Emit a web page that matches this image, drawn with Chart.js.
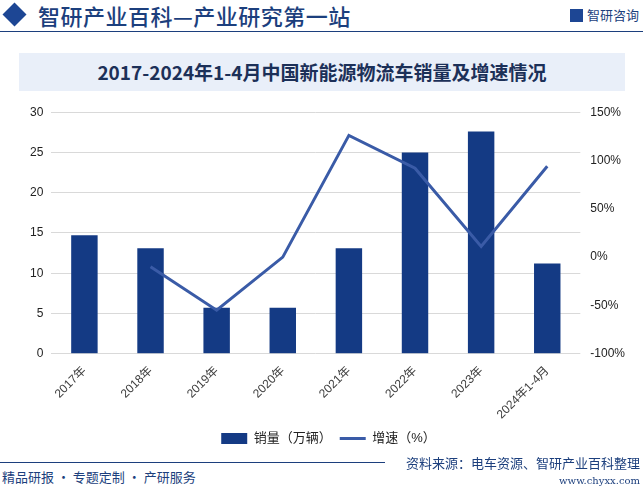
<!DOCTYPE html>
<html>
<head>
<meta charset="utf-8">
<script src="https://cdn.jsdelivr.net/npm/chart.js@4.4.1/dist/chart.umd.min.js"></script>
<style>
  html, body { margin: 0; padding: 0; background: #fff; }
  #page { position: relative; width: 643px; height: 486px; overflow: hidden; font-family: "Noto Sans CJK SC", sans-serif; }
  #logo { position: absolute; left: 6px; top: 6px; width: 17px; height: 17px; background: #1d4694; transform: rotate(45deg); }
  #logo2 { position: absolute; left: 17px; top: 8px; width: 13px; height: 13px; background: #c9d3e6; transform: rotate(45deg); z-index: -1; }
  #head { position: absolute; left: 38px; top: 0px; font-size: 22px; color: #1c3f7d; font-weight: 500; letter-spacing: 0.5px; line-height: 30px; }
  #brand { position: absolute; right: 4px; top: 6px; font-size: 13px; color: #1c3f7d; line-height: 18px; }
  #brand span.ic { display: inline-block; width: 13px; height: 13px; background: #1d4694; vertical-align: -2px; margin-right: 4px; }
  #hline { position: absolute; left: 0; top: 31px; width: 643px; height: 1px; background: #1c3f7d; }
  #titlebox { position: absolute; left: 19px; top: 53px; width: 606px; height: 38px; background: #e9eff9; text-align: center; line-height: 38px; font-size: 19px; font-weight: 700; color: #1c3058; }
  #chartwrap { position: absolute; left: 0; top: 95px; width: 643px; height: 360px; }
  #fline { position: absolute; left: 0; top: 462px; width: 385px; height: 0; border-top: 1px solid #1c3f7d; z-index: 5; }
  #src { position: absolute; right: 3px; top: 453px; font-size: 13px; color: #1c3f7d; line-height: 20px; }
  #slogan { position: absolute; left: 2px; top: 468px; font-size: 13px; color: #1c3f7d; line-height: 18px; }
  #url { position: absolute; right: 3px; top: 474px; font-size: 10px; color: #1c3f7d; font-family: "DejaVu Serif", serif; line-height: 14px; }
</style>
</head>
<body>
<div id="page">
  <div id="logo2"></div>
  <div id="logo"></div>
  <div id="head">智研产业百科—产业研究第一站</div>
  <div id="brand"><span class="ic"></span>智研咨询</div>
  <div id="hline"></div>
  <div id="titlebox">2017-2024年1-4月中国新能源物流车销量及增速情况</div>
  <div id="chartwrap"><canvas id="chart-canvas"></canvas></div>
  <div id="fline"></div>
  <div id="src">资料来源：电车资源、智研产业百科整理</div>
  <div id="slogan">精品研报 · 专题定制 · 产研服务</div>
  <div id="url">www.chyxx.com</div>
</div>
<script>
let labels    = ['2017年', '2018年', '2019年', '2020年', '2021年', '2022年', '2023年', '2024年1-4月'];
let sales     = [14.7, 13.1, 5.7, 5.7, 13.1, 25.0, 27.6, 11.2];
let growth    = [null, -10, -55, 0, 126, 92, 11, 94];
let leftTicks = [0, 5, 10, 15, 20, 25, 30];
let rightTicks = [-100, -50, 0, 50, 100, 150];

let fontFamily = '"Liberation Sans", "Noto Sans CJK SC", sans-serif';

var ctx = document.getElementById('chart-canvas').getContext('2d');
window.myChart = new Chart(ctx, {
  type: 'bar',
  data: {
    labels: labels,
    datasets: [
      {
        label: '销量（万辆）',
        data: sales,
        backgroundColor: '#143a84',
        borderWidth: 0,
        barPercentage: 0.8,
        categoryPercentage: 0.5,
        yAxisID: 'y',
        order: 2
      },
      {
        type: 'line',
        label: '增速（%）',
        data: growth,
        borderColor: '#3a5ba7',
        backgroundColor: '#3a5ba7',
        borderWidth: 3,
        pointRadius: 0,
        fill: false,
        tension: 0,
        yAxisID: 'y1',
        order: 1
      }
    ]
  },
  options: {
    responsive: true,
    maintainAspectRatio: false,
    animation: false,
    layout: { padding: { left: 22, right: 8, top: 0, bottom: 0 } },
    plugins: {
      legend: {
        position: 'bottom',
        labels: {
          font: { family: fontFamily, size: 13 },
          color: '#222',
          usePointStyle: true,
          pointStyleWidth: 26,
          boxHeight: 11,
          padding: 8,
          generateLabels: function(chart) {
            let items = Chart.defaults.plugins.legend.labels.generateLabels(chart);
            items.sort(function(a, b) { return a.datasetIndex - b.datasetIndex; });
            items.forEach(function(it) {
              if (it.datasetIndex === 0) {
                it.pointStyle = 'rect';
                it.fillStyle = '#143a84';
                it.lineWidth = 0;
              } else {
                it.pointStyle = 'line';
                it.lineWidth = 3;
                it.strokeStyle = '#3a5ba7';
              }
            });
            return items;
          }
        }
      },
      tooltip: { enabled: false }
    },
    scales: {
      x: {
        grid: { display: false },
        border: { display: false },
        ticks: {
          font: { family: fontFamily, size: 12 },
          color: '#404040',
          minRotation: 45,
          maxRotation: 45,
          padding: 2
        }
      },
      y: {
        position: 'left',
        min: 0,
        max: 30,
        afterBuildTicks: function(axis) { axis.ticks = leftTicks.map(v => ({ value: v })); },
        grid: { color: '#d9d9d9', drawTicks: false },
        border: { display: false },
        ticks: {
          font: { family: fontFamily, size: 12 },
          color: '#222',
          padding: 8
        }
      },
      y1: {
        position: 'right',
        min: -100,
        max: 150,
        afterBuildTicks: function(axis) { axis.ticks = rightTicks.map(v => ({ value: v })); },
        grid: { drawOnChartArea: false, drawTicks: false },
        border: { display: false },
        ticks: {
          font: { family: fontFamily, size: 12 },
          color: '#222',
          padding: 10,
          callback: function(v) { return v + '%'; }
        }
      }
    }
  }
});
</script>
</body>
</html>
